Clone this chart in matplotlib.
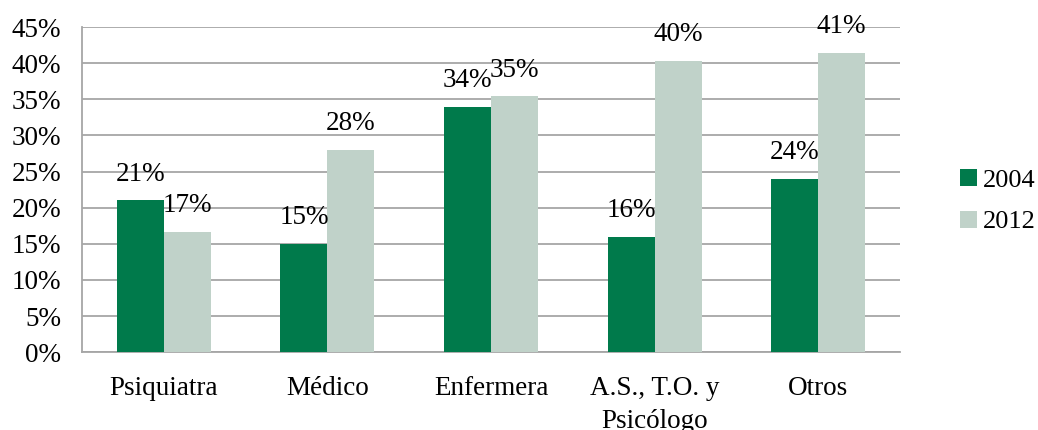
import matplotlib.pyplot as plt
import numpy as np

categorias = ["Psiquiatra", "Médico", "Enfermera", "A.S., T.O. y\nPsicólogo", "Otros"]
anios = ["2004", "2012"]
valores_2004 = [21, 15, 34, 16, 24]
valores_2012 = [16.6, 28, 35.4, 40.3, 41.4]

color_2004 = "#007a4b"
color_2012 = "#c0d2c9"
gris = "#a6a6a6"

plt.rcParams["font.family"] = ["Liberation Serif", "DejaVu Serif"]

fig = plt.figure(figsize=(10.38, 4.30), dpi=100)
ax = fig.add_axes([0.079, 0.181, 0.788, 0.756])

x = np.arange(len(categorias))
ancho = 0.287

barras1 = ax.bar(x - ancho / 2, valores_2004, ancho, color=color_2004, label=anios[0], zorder=3)
barras2 = ax.bar(x + ancho / 2, valores_2012, ancho, color=color_2012, label=anios[1], zorder=3)

for barras in (barras1, barras2):
    for b in barras:
        ax.annotate(f"{b.get_height():.0f}%", (b.get_x() + b.get_width() / 2, b.get_height()),
                    xytext=(0, 10), textcoords="offset points", ha="center", va="bottom",
                    fontsize=19.5, zorder=4)

ax.set_xlim(-0.5, len(categorias) - 0.5)
ax.set_ylim(0, 45)
ax.set_yticks(range(0, 46, 5))
ax.set_yticklabels([f"{v}%" for v in range(0, 46, 5)])
ax.set_xticks(x)
ax.set_xticklabels(categorias, linespacing=1.45)
ax.tick_params(axis="both", length=0, labelsize=19.5)
ax.tick_params(axis="x", pad=17)
ax.tick_params(axis="y", pad=15)
ax.yaxis.grid(True, color=gris, linewidth=1.3, zorder=0)
for lado in ("top", "right"):
    ax.spines[lado].set_visible(False)
for lado in ("left", "bottom"):
    ax.spines[lado].set_color(gris)
    ax.spines[lado].set_linewidth(1.3)

ax.legend(loc="center left", bbox_to_anchor=(1.0575, 0.465), frameon=False, fontsize=19,
          borderpad=0, handlelength=0.62, handleheight=0.62, handletextpad=0.25,
          labelspacing=0.72)

fig.savefig("out.png", dpi=100)
